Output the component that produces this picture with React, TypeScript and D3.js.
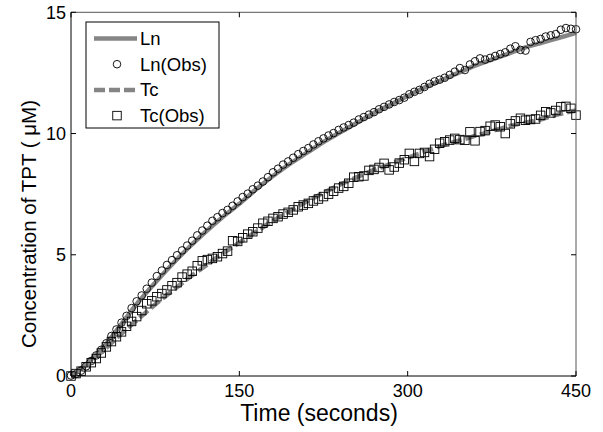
import React from "react";
import * as d3 from "d3";

// ---- data ----
const modelTime = [0, 15, 30, 45, 60, 75, 90, 105, 120, 135, 150, 165, 180, 195, 210, 225, 240, 255, 270, 285, 300, 315, 330, 345, 360, 375, 390, 405, 420, 435, 450];
const lnModel = [0, 0.55, 1.25, 2.15, 3.05, 3.85, 4.6, 5.3, 5.95, 6.55, 7.1, 7.7, 8.25, 8.75, 9.2, 9.65, 10.05, 10.45, 10.85, 11.2, 11.55, 11.9, 12.2, 12.5, 12.8, 13.05, 13.3, 13.55, 13.75, 13.95, 14.15];
const tcModel = [0, 0.5, 1.1, 1.75, 2.35, 2.95, 3.5, 4.05, 4.55, 5.05, 5.5, 5.95, 6.4, 6.8, 7.2, 7.55, 7.9, 8.2, 8.5, 8.75, 9.0, 9.25, 9.5, 9.7, 9.9, 10.1, 10.3, 10.45, 10.6, 10.8, 10.95];

const obsTime = [0, 4.5, 9, 13.5, 18, 22.5, 27, 31.5, 36, 40.5, 45, 49.5, 54, 58.5, 63, 67.5, 72, 76.5, 81, 85.5, 90, 94.5, 99, 103.5, 108, 112.5, 117, 121.5, 126, 130.5, 135, 139.5, 144, 148.5, 153, 157.5, 162, 166.5, 171, 175.5, 180, 184.5, 189, 193.5, 198, 202.5, 207, 211.5, 216, 220.5, 225, 229.5, 234, 238.5, 243, 247.5, 252, 256.5, 261, 265.5, 270, 274.5, 279, 283.5, 288, 292.5, 297, 301.5, 306, 310.5, 315, 319.5, 324, 328.5, 333, 337.5, 342, 346.5, 351, 355.5, 360, 364.5, 369, 373.5, 378, 382.5, 387, 391.5, 396, 400.5, 405, 409.5, 414, 418.5, 423, 427.5, 432, 436.5, 441, 445.5, 450];
const lnObs = [0.02, 0.08, 0.22, 0.4, 0.62, 0.85, 1.08, 1.35, 1.65, 1.92, 2.2, 2.48, 2.8, 3.08, 3.32, 3.6, 3.85, 4.12, 4.35, 4.58, 4.78, 4.98, 5.18, 5.38, 5.58, 5.8, 6.0, 6.2, 6.4, 6.55, 6.72, 6.85, 7.02, 7.2, 7.38, 7.52, 7.7, 7.85, 8.02, 8.2, 8.4, 8.55, 8.72, 8.85, 9.0, 9.15, 9.28, 9.4, 9.55, 9.68, 9.8, 9.92, 10.02, 10.15, 10.25, 10.35, 10.45, 10.58, 10.68, 10.78, 10.88, 11.0, 11.1, 11.2, 11.3, 11.38, 11.48, 11.62, 11.72, 11.8, 11.92, 12.05, 12.15, 12.22, 12.3, 12.42, 12.55, 12.7, 12.62, 12.85, 12.98, 13.1, 13.05, 13.12, 13.2, 13.28, 13.35, 13.5, 13.6, 13.45, 13.42, 13.78, 13.85, 13.9, 14.0, 14.05, 14.1, 14.28, 14.35, 14.32, 14.3];
const tcObs = [0.0, 0.1, 0.2, 0.38, 0.55, 0.72, 0.95, 1.2, 1.42, 1.62, 1.82, 2.05, 2.25, 2.45, 2.7, 2.98, 3.1, 3.27, 3.4, 3.55, 3.72, 3.85, 4.08, 4.2, 4.32, 4.55, 4.75, 4.8, 4.85, 4.92, 5.05, 5.15, 5.58, 5.55, 5.7, 5.85, 5.95, 6.1, 6.3, 6.38, 6.5, 6.57, 6.68, 6.75, 6.85, 6.98, 7.05, 7.12, 7.22, 7.3, 7.4, 7.5, 7.62, 7.75, 7.82, 7.95, 8.2, 8.22, 8.25, 8.48, 8.52, 8.6, 8.77, 8.5, 8.62, 8.78, 8.92, 9.18, 8.85, 9.18, 9.22, 9.05, 9.35, 9.6, 9.66, 9.73, 9.8, 9.75, 9.72, 10.07, 9.7, 10.08, 10.12, 10.3, 10.35, 10.28, 10.0, 10.4, 10.52, 10.63, 10.55, 10.58, 10.6, 10.75, 10.9, 10.85, 10.95, 11.1, 11.12, 11.04, 10.76];

const xTicks = [0, 150, 300, 450];
const yTicks = [0, 5, 10, 15];
const legendLabels = ["Ln", "Ln(Obs)", "Tc", "Tc(Obs)"];
const xLabel = "Time (seconds)";
const yLabel = "Concentration of TPT ( \u03bcM)";

const FONT = "'Liberation Sans', Arial, Helvetica, sans-serif";
const GRAY = "#858585";

export default function App() {
  const W = 603, H = 432;
  const x = d3.scaleLinear().domain([0, 450]).range([71, 576]);
  const y = d3.scaleLinear().domain([0, 15]).range([376, 12.3]);
  const [x0, x1] = x.range();
  const [y0, y1] = y.range();

  const line = d3
    .line<number>()
    .x((_, i) => x(modelTime[i]))
    .y((d) => y(d))
    .curve(d3.curveMonotoneX);

  const sq = 8.5;
  const tickLen = 5;

  const legX = 86, legY = 22, legW = 133, legH = 106;
  const rowY = [38.5, 64.2, 89.9, 115.6];

  return (
    <svg width={W} height={H} style={{ position: "absolute", left: 0, top: 0, background: "#fff" }}>
      <rect x={0} y={0} width={W} height={H} fill="#fff" />
      {/* series */}
      <path d={line(lnModel) || ""} fill="none" stroke={GRAY} strokeWidth={4.5} />
      {lnObs.map((v, i) => (
        <circle key={"c" + i} cx={x(obsTime[i])} cy={y(v)} r={3.8} fill="none" stroke="#000" strokeWidth={0.9} />
      ))}
      <path d={line(tcModel) || ""} fill="none" stroke={GRAY} strokeWidth={4.5} strokeDasharray="11,4" />
      {tcObs.map((v, i) => (
        <rect key={"s" + i} x={x(obsTime[i]) - sq / 2} y={y(v) - sq / 2} width={sq} height={sq} fill="none" stroke="#000" strokeWidth={0.9} />
      ))}

      {/* axes box */}
      <line x1={x0} y1={y1} x2={x1} y2={y1} stroke="#555" strokeWidth={1} />
      <line x1={x1} y1={y1} x2={x1} y2={y0} stroke="#555" strokeWidth={1} />
      <line x1={x0} y1={y0} x2={x1} y2={y0} stroke="#000" strokeWidth={1} />
      <line x1={x0} y1={y1} x2={x0} y2={y0} stroke="#000" strokeWidth={1} />

      {/* x ticks */}
      {xTicks.map((t) => (
        <g key={"xt" + t}>
          <line x1={x(t)} x2={x(t)} y1={y0} y2={y0 - tickLen} stroke="#000" />
          <line x1={x(t)} x2={x(t)} y1={y1} y2={y1 + tickLen} stroke="#000" />
          <text x={x(t)} y={397} textAnchor="middle" fontFamily={FONT} fontSize={18} fill="#000">
            {t}
          </text>
        </g>
      ))}
      {/* y ticks */}
      {yTicks.map((t) => (
        <g key={"yt" + t}>
          <line x1={x0} x2={x0 + tickLen} y1={y(t)} y2={y(t)} stroke="#000" />
          <line x1={x1} x2={x1 - tickLen} y1={y(t)} y2={y(t)} stroke="#000" />
          <text x={66} y={y(t) + 6.2} textAnchor="end" fontFamily={FONT} fontSize={18} fill="#000">
            {t}
          </text>
        </g>
      ))}

      {/* axis labels */}
      <text x={319} y={421} textAnchor="middle" fontFamily={FONT} fontSize={23} fill="#000">
        {xLabel}
      </text>
      <text
        transform={`translate(36,224) rotate(-90)`}
        textAnchor="middle"
        fontFamily={FONT}
        fontSize={20.5}
        fill="#000"
      >
        {yLabel}
      </text>

      {/* legend */}
      <rect x={legX} y={legY} width={legW} height={legH} fill="#fff" stroke="#000" strokeWidth={1} />
      <line x1={94} x2={137} y1={rowY[0]} y2={rowY[0]} stroke={GRAY} strokeWidth={4.5} />
      <circle cx={117} cy={rowY[1]} r={3.8} fill="none" stroke="#000" strokeWidth={0.9} />
      <line x1={94} x2={137} y1={rowY[2]} y2={rowY[2]} stroke={GRAY} strokeWidth={4.5} strokeDasharray="11,4" />
      <rect x={117 - sq / 2} y={rowY[3] - sq / 2} width={sq} height={sq} fill="none" stroke="#000" strokeWidth={0.9} />
      {legendLabels.map((l, i) => (
        <text key={l} x={140} y={rowY[i] + 6.5} fontFamily={FONT} fontSize={18.5} fill="#000">
          {l}
        </text>
      ))}
    </svg>
  );
}
